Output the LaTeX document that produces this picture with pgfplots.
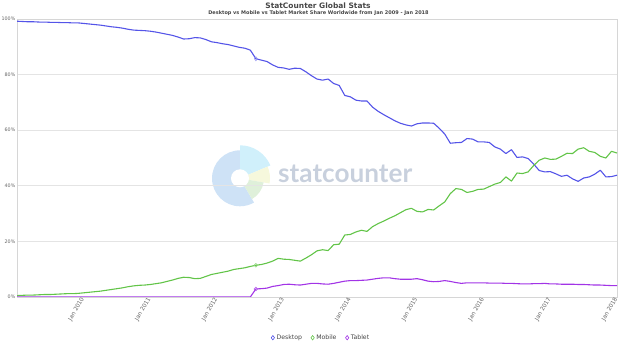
\documentclass[border=0pt]{standalone}
\usepackage{fontspec}
\setmainfont{DejaVu Sans}
\newfontfamily\logofont{Lato}
\usepackage{pgfplots}
\usepackage{pgfplotstable}
\pgfplotsset{compat=1.18}
\definecolor{desk}{RGB}{84,84,232}
\definecolor{mob}{RGB}{98,196,72}
\definecolor{tab}{RGB}{162,52,230}
\definecolor{gridgray}{RGB}{228,228,228}
\definecolor{axisgray}{RGB}{214,214,214}
\definecolor{labelgray}{RGB}{100,100,100}
\definecolor{titlegray}{RGB}{70,70,70}
\definecolor{logoblue}{RGB}{206,226,246}
\definecolor{logocyan}{RGB}{208,240,251}
\definecolor{logoyellow}{RGB}{246,248,220}
\definecolor{logogreen}{RGB}{223,240,218}
\definecolor{logotext}{RGB}{200,208,221}

\pgfplotstableread{
m desktop mobile tablet
0 99.2 0.5 0
1 99.1 0.6 0
2 99.0 0.7 0
3 99.0 0.7 0
4 98.9 0.8 0
5 98.9 0.9 0
6 98.8 0.9 0
7 98.8 1.0 0
8 98.7 1.1 0
9 98.7 1.2 0
10 98.6 1.2 0
11 98.6 1.3 0
12 98.4 1.5 0
13 98.2 1.7 0
14 98.0 1.9 0
15 97.8 2.1 0
16 97.5 2.4 0
17 97.2 2.7 0
18 97.0 3.0 0
19 96.7 3.3 0
20 96.3 3.7 0
21 96.0 4.0 0
22 95.9 4.2 0
23 95.8 4.3 0
24 95.6 4.5 0
25 95.3 4.8 0
26 94.9 5.1 0
27 94.5 5.6 0
28 94.1 6.1 0
29 93.5 6.7 0
30 92.8 7.1 0
31 92.9 7.0 0
32 93.3 6.6 0
33 93.2 6.7 0
34 92.6 7.4 0
35 91.8 8.1 0
36 91.5 8.5 0
37 91.1 8.9 0
38 90.8 9.3 0
39 90.3 9.9 0
40 89.8 10.2 0
41 89.5 10.5 0
42 88.8 11.0 0
43 85.7 11.4 2.9
44 85.2 11.7 3.0
45 84.7 12.2 3.2
46 83.5 12.9 3.8
47 82.6 13.9 4.1
48 82.4 13.6 4.5
49 81.9 13.5 4.6
50 82.3 13.2 4.4
51 82.2 12.9 4.3
52 81.0 14.0 4.6
53 79.6 15.2 4.9
54 78.4 16.6 4.9
55 78.0 17.0 4.7
56 78.4 16.7 4.6
57 76.8 18.8 4.9
58 76.1 19.0 5.3
59 72.5 22.3 5.7
60 72.0 22.5 5.9
61 70.8 23.4 5.9
62 70.5 24.0 6.0
63 70.5 23.6 6.1
64 68.3 25.3 6.4
65 66.8 26.4 6.7
66 65.6 27.3 6.9
67 64.5 28.3 6.9
68 63.4 29.2 6.6
69 62.5 30.3 6.4
70 61.9 31.4 6.4
71 61.5 31.9 6.4
72 62.3 30.8 6.6
73 62.6 30.6 6.2
74 62.6 31.5 5.7
75 62.5 31.3 5.5
76 60.7 32.8 5.6
77 58.6 34.2 5.9
78 55.3 37.2 5.6
79 55.5 39.0 5.2
80 55.6 38.7 4.9
81 57.0 37.6 5.1
82 56.8 38.0 5.1
83 55.8 38.7 5.1
84 55.8 38.8 5.1
85 55.6 39.7 5.0
86 54.0 40.6 5.0
87 53.2 41.2 5.0
88 51.6 43.2 4.9
89 53.0 41.7 4.9
90 50.2 44.6 4.8
91 50.4 44.4 4.7
92 49.8 45.0 4.7
93 47.8 47.3 4.8
94 45.5 49.2 4.8
95 45.0 50.0 4.9
96 45.1 49.5 4.7
97 44.3 49.6 4.7
98 43.4 50.6 4.6
99 43.8 51.7 4.6
100 42.5 51.6 4.6
101 41.6 53.2 4.5
102 42.8 53.7 4.5
103 43.2 52.4 4.4
104 44.2 52.0 4.3
105 45.6 50.6 4.3
106 43.2 50.0 4.2
107 43.3 52.4 4.1
108 43.8 51.8 4.1
}\datatable

\pgfplotstableread{
m desktop mobile tablet
43 85.7 11.4 2.9
}\markertable

\begin{document}
\begin{tikzpicture}
\useasboundingbox (0,0) rectangle (624bp,351bp);
% watermark logo
\coordinate (C) at (240bp,172.7bp);
\fill[logoblue] (C) -- ++(90:28bp) arc[start angle=90, end angle=300, radius=28bp] -- cycle;
\fill[logocyan] (C) -- ++(23:33bp) arc[start angle=23, end angle=90, radius=33bp] -- cycle;
\fill[logoyellow] (C) -- ++(-10:30bp) arc[start angle=-10, end angle=23, radius=30bp] -- cycle;
\fill[logogreen] (C) -- ++(-60:24bp) arc[start angle=-60, end angle=-10, radius=24bp] -- cycle;
\fill[white] (C) circle[radius=9bp];
\node[anchor=base west, inner sep=0pt, text=logotext] at (278bp,168bp)
  {\resizebox{134bp}{!}{\logofont\bfseries statcounter}};
% titles
\node[anchor=center, inner sep=0pt, text=titlegray] at (318bp,345.5bp)
  {\fontsize{7.5}{9}\selectfont\bfseries StatCounter Global Stats};
\node[anchor=center, inner sep=0pt, text=titlegray] at (318.5bp,338bp)
  {\fontsize{5}{6}\selectfont\bfseries Desktop vs Mobile vs Tablet Market Share Worldwide from Jan 2009 - Jan 2018};
\begin{axis}[
  at={(17bp,54bp)}, anchor=south west,
  scale only axis, width=600bp, height=278bp,
  xmin=0, xmax=108, ymin=0, ymax=100,
  axis line style={draw=axisgray, line width=0.8bp},
  ytick={0,20,40,60,80,100},
  yticklabels={0\%,20\%,40\%,60\%,80\%,100\%},
  ymajorgrids,
  grid style={draw=gridgray, line width=0.8bp},
  xtick={12,24,36,48,60,72,84,96,108},
  xticklabels={Jan 2010,Jan 2011,Jan 2012,Jan 2013,Jan 2014,Jan 2015,Jan 2016,Jan 2017,Jan 2018},
  xticklabel style={rotate=60, anchor=east, font=\fontsize{5.8}{7}\selectfont, text=labelgray, inner sep=1.5bp},
  yticklabel style={font=\fontsize{4.8}{6}\selectfont, text=labelgray, inner sep=1.5bp},
  major tick length=0pt,
  tick style={draw=none},
  legend style={at={(0.507,-0.1465)}, anchor=center, legend columns=3, draw=none, fill=none,
    font=\fontsize{6.2}{7}\selectfont, text=titlegray,
    /tikz/every even column/.append style={column sep=7bp}},
  legend cell align=left,
]
\addplot[desk, line width=1.1bp, line join=round, mark=none, forget plot] table[x=m, y=desktop] {\datatable};
\addplot[mob, line width=1.1bp, line join=round, mark=none, forget plot] table[x=m, y=mobile] {\datatable};
\addplot[tab, line width=1.1bp, line join=round, mark=none, forget plot] table[x=m, y=tablet] {\datatable};
\addplot[only marks, mark=diamond, mark size=2bp, mark options={draw=desk!60, fill=white, line width=0.6bp}, forget plot] table[x=m, y=desktop] {\markertable};
\addplot[only marks, mark=o, mark size=1.8bp, mark options={draw=mob!70, fill=white, line width=0.6bp}, forget plot] table[x=m, y=mobile] {\markertable};
\addplot[only marks, mark=o, mark size=1.8bp, mark options={draw=tab!80, fill=white, line width=0.6bp}, forget plot] table[x=m, y=tablet] {\markertable};
\addlegendimage{only marks, mark=diamond, mark size=2.2bp, mark options={draw=desk, line width=0.6bp}}
\addlegendentry{Desktop}
\addlegendimage{only marks, mark=diamond, mark size=2.2bp, mark options={draw=mob, line width=0.6bp}}
\addlegendentry{Mobile}
\addlegendimage{only marks, mark=diamond, mark size=2.2bp, mark options={draw=tab, line width=0.6bp}}
\addlegendentry{Tablet}
\end{axis}
\end{tikzpicture}
\end{document}
